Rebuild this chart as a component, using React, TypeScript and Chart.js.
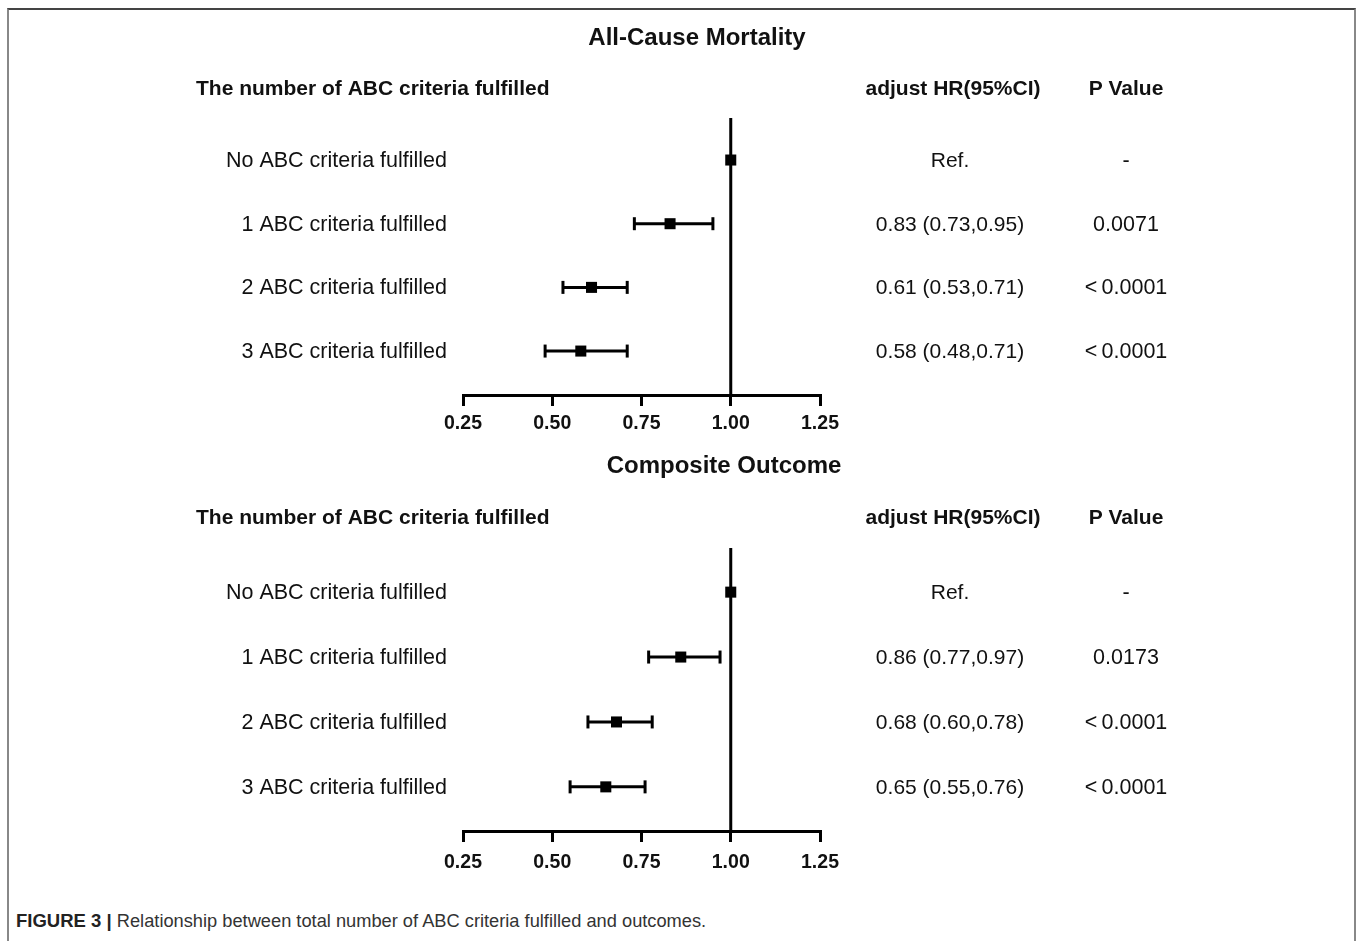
import React, { useEffect, useRef } from "react";
import { Chart, registerables } from "chart.js";
Chart.register(...registerables);

const rowLabels = [
  "No ABC criteria fulfilled",
  "1 ABC criteria fulfilled",
  "2 ABC criteria fulfilled",
  "3 ABC criteria fulfilled",
];
const mortalityHR = [1.0, 0.83, 0.61, 0.58];
const mortalityLow = [null, 0.73, 0.53, 0.48];
const mortalityHigh = [null, 0.95, 0.71, 0.71];
const mortalityP = ["-", "0.0071", "<0.0001", "<0.0001"];

const compositeHR = [1.0, 0.86, 0.68, 0.65];
const compositeLow = [null, 0.77, 0.6, 0.55];
const compositeHigh = [null, 0.97, 0.78, 0.76];
const compositeP = ["-", "0.0173", "<0.0001", "<0.0001"];

const xTicks = [0.25, 0.5, 0.75, 1.0, 1.25];

const FONT = '"Liberation Sans", Arial, Helvetica, sans-serif';
const W = 1357;
const H = 450;
const AXIS_H = 40;

type PanelCfg = {
  title: string;
  hr: number[];
  low: (number | null)[];
  high: (number | null)[];
  p: string[];
  titleX: number;
  titleY: number;
  headerY: number;
  areaTop: number;
  areaBottom: number;
  yMin: number;
  yMax: number;
  tickPad: number;
};

function Panel({ cfg, top }: { cfg: PanelCfg; top: number }) {
  const ref = useRef<HTMLCanvasElement | null>(null);
  useEffect(() => {
    if (!ref.current) return;
    const hrText = cfg.hr.map((v, i) =>
      cfg.low[i] == null
        ? "Ref."
        : `${v.toFixed(2)} (${(cfg.low[i] as number).toFixed(2)},${(cfg.high[i] as number).toFixed(2)})`
    );
    const textPlugin = {
      id: "forestText",
      afterDraw(chart: any) {
        const { ctx } = chart;
        const y = chart.scales.y;
        ctx.save();
        ctx.fillStyle = "#111";
        ctx.textBaseline = "middle";
        ctx.font = `bold 24px ${FONT}`;
        ctx.textAlign = "center";
        ctx.fillText(cfg.title, cfg.titleX, cfg.titleY + 1);
        ctx.font = `bold 21px ${FONT}`;
        ctx.textAlign = "left";
        ctx.fillText("The number of ABC criteria fulfilled", 196, cfg.headerY);
        ctx.textAlign = "center";
        ctx.fillText("adjust HR(95%CI)", 953, cfg.headerY);
        ctx.fillText("P Value", 1126, cfg.headerY);
        rowLabels.forEach((lab, i) => {
          const py = y.getPixelForValue(i) + 1;
          ctx.font = `21.5px ${FONT}`;
          ctx.textAlign = "right";
          ctx.fillText(lab, 447, py);
          ctx.font = `21px ${FONT}`;
          ctx.textAlign = "center";
          ctx.fillText(hrText[i], 950, py);
          ctx.font = `21.5px ${FONT}`;
          ctx.fillText(cfg.p[i].replace("<", "<\u2009"), 1126, py);
        });
        ctx.restore();
      },
    };

    const datasets: any[] = [];
    datasets.push({
      label: "HR",
      data: cfg.hr.map((v, i) => ({ x: v, y: i })),
      pointStyle: "rect",
      pointRadius: 7.8,
      pointBackgroundColor: "#000",
      pointBorderWidth: 0,
      showLine: false,
      clip: false,
    });
    cfg.hr.forEach((_, i) => {
      if (cfg.low[i] == null) return;
      datasets.push({
        label: "CI" + i,
        data: [
          { x: cfg.low[i], y: i },
          { x: cfg.high[i], y: i },
        ],
        showLine: true,
        borderColor: "#000",
        borderWidth: 3,
        pointStyle: "line",
        pointRotation: 90,
        pointRadius: 6.5,
        pointBorderWidth: 3,
        pointBorderColor: "#000",
        clip: false,
      });
    });
    datasets.push({
      label: "ref",
      data: [
        { x: 1, y: cfg.yMin },
        { x: 1, y: cfg.yMax },
      ],
      showLine: true,
      borderColor: "#000",
      borderWidth: 3,
      pointRadius: 0,
      clip: false,
    });

    const chart = new Chart(ref.current, {
      type: "scatter",
      data: { datasets },
      options: {
        responsive: false,
        animation: false,
        events: [],
        layout: {
          padding: {
            left: 463,
            right: W - 820,
            top: cfg.areaTop,
            bottom: H - cfg.areaBottom - AXIS_H,
          },
        },
        plugins: {
          legend: { display: false },
          tooltip: { enabled: false },
        },
        scales: {
          x: {
            type: "linear",
            min: 0.25,
            max: 1.25,
            afterBuildTicks: (s: any) => {
              s.ticks = xTicks.map((v) => ({ value: v }));
            },
            afterFit: (s: any) => {
              s.height = AXIS_H;
            },
            ticks: {
              callback: (v: any) => Number(v).toFixed(2),
              font: { family: FONT, size: 19.5, weight: "bold" },
              color: "#111",
              padding: cfg.tickPad,
              maxRotation: 0,
              autoSkip: false,
            },
            grid: {
              display: true,
              drawOnChartArea: false,
              drawTicks: true,
              tickLength: 11,
              lineWidth: 3,
              color: "#000",
            },
            border: { display: true, width: 3, color: "#000" },
          },
          y: {
            type: "linear",
            display: false,
            reverse: true,
            min: cfg.yMin,
            max: cfg.yMax,
          },
        },
      },
      plugins: [textPlugin],
    } as any);
    return () => chart.destroy();
  }, [cfg]);
  return (
    <canvas
      ref={ref}
      width={W}
      height={H}
      style={{ position: "absolute", left: 0, top, width: W, height: H }}
    />
  );
}

const panel1: PanelCfg = {
  title: "All-Cause Mortality",
  hr: mortalityHR,
  low: mortalityLow,
  high: mortalityHigh,
  p: mortalityP,
  titleX: 697,
  titleY: 37,
  headerY: 89,
  areaTop: 118,
  areaBottom: 395,
  yMin: -0.66,
  yMax: 3.69,
  tickPad: 6,
};

const panel2: PanelCfg = {
  title: "Composite Outcome",
  hr: compositeHR,
  low: compositeLow,
  high: compositeHigh,
  p: compositeP,
  titleX: 724,
  titleY: 37,
  headerY: 90,
  areaTop: 120,
  areaBottom: 403,
  yMin: -0.68,
  yMax: 3.68,
  tickPad: 9,
};

export default function App() {
  return (
    <div
      style={{
        position: "absolute",
        left: 0,
        top: 0,
        width: W,
        height: 941,
        overflow: "hidden",
        background: "#fff",
      }}
    >
      <div
        style={{
          position: "absolute",
          left: 7,
          top: 8,
          width: 1349,
          height: 933,
          boxSizing: "border-box",
          borderTop: "2px solid #444",
          borderLeft: "2px solid #888",
          borderRight: "2px solid #888",
        }}
      />
      <Panel cfg={panel1} top={0} />
      <Panel cfg={panel2} top={428} />
      <div
        style={{
          position: "absolute",
          left: 16,
          top: 910,
          fontFamily: FONT,
          fontSize: 18,
          color: "#333",
          whiteSpace: "nowrap",
          lineHeight: "22px",
        }}
      >
        <span style={{ fontWeight: "bold", color: "#222", fontSize: 18.5 }}>FIGURE 3 | </span>
        <span style={{ fontSize: 18.25 }}>
          Relationship between total number of ABC criteria fulfilled and outcomes.
        </span>
      </div>
    </div>
  );
}
